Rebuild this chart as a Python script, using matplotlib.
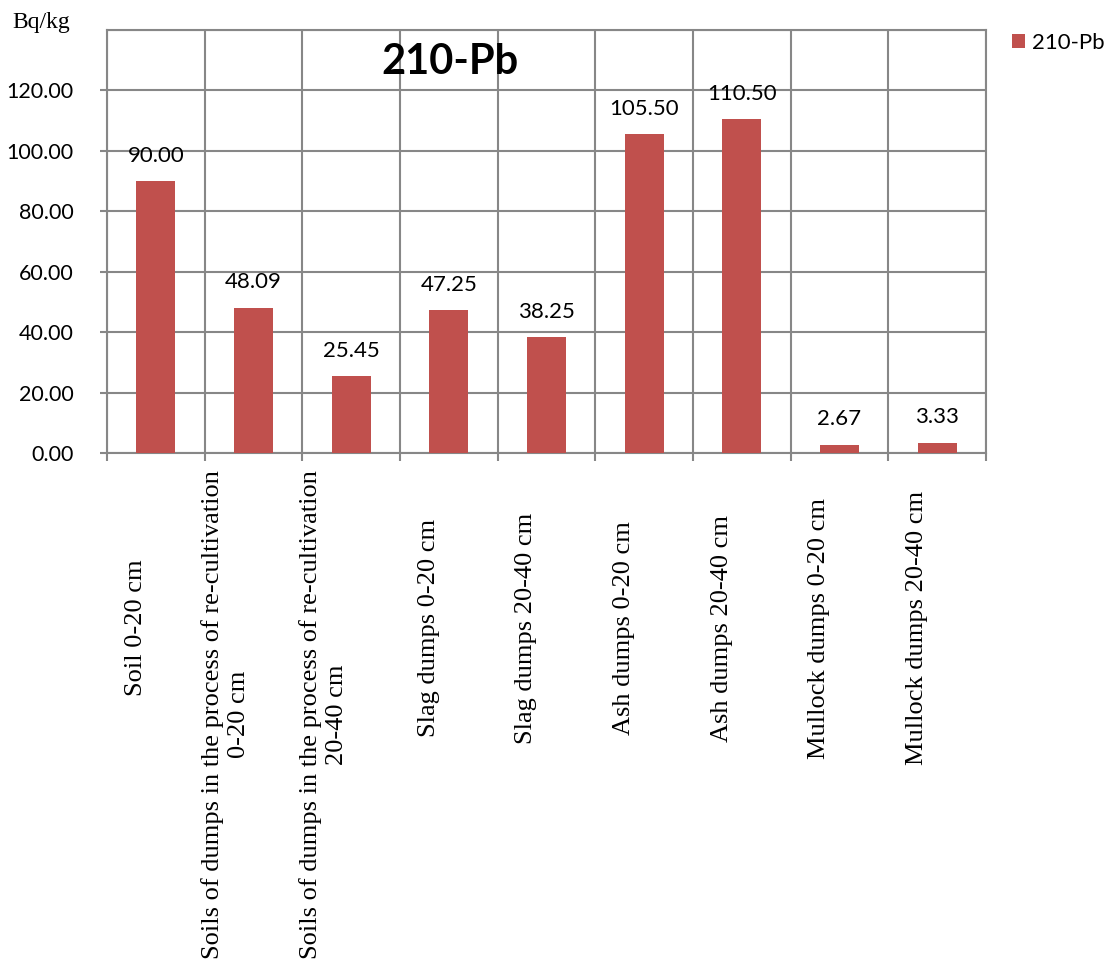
import matplotlib
matplotlib.use("Agg")
import matplotlib.pyplot as plt
import matplotlib.transforms as mtransforms
import numpy as np

categories = [
    "Soil 0-20 cm",
    "Soils of dumps in the process of re-cultivation\n0-20 cm",
    "Soils of dumps in the process of re-cultivation\n20-40 cm",
    "Slag dumps 0-20 cm",
    "Slag dumps 20-40 cm",
    "Ash dumps 0-20 cm",
    "Ash dumps 20-40 cm",
    "Mullock dumps 0-20 cm",
    "Mullock dumps 20-40 cm",
]
values = [90.00, 48.09, 25.45, 47.25, 38.25, 105.50, 110.50, 2.67, 3.33]
yticks = [0, 20, 40, 60, 80, 100, 120, 140]
series_name = "210-Pb"
title = "210-Pb"
unit_label = "Bq/kg"

W, H = 1112, 963
fig = plt.figure(figsize=(W / 100, H / 100), dpi=100)
L, R, T, B = 107, 986, 30, 453
ax = fig.add_axes([L / W, 1 - B / H, (R - L) / W, (B - T) / H])

bar_color = "#C0504D"
grid_color = "#878787"
num_font = "Lato"

n = len(categories)
x = np.arange(n)
ax.bar(x, values, width=0.4, color=bar_color, zorder=3, label=series_name)

ax.set_xlim(-0.5, n - 0.5)
ax.set_ylim(0, 140)

# gridlines
ax.set_yticks(yticks)
ax.set_yticklabels(["" if v == 140 else f"{v:.2f}" for v in yticks],
                   fontsize=15.5, fontfamily=num_font)
ax.yaxis.grid(True, color=grid_color, linewidth=1.5, zorder=0)
ax.set_xticks(np.arange(-0.5, n, 1.0))
ax.set_xticklabels([])
ax.xaxis.grid(True, color=grid_color, linewidth=1.5, zorder=0)
ax.tick_params(axis="y", length=5, width=1.5, color=grid_color, pad=19)
ax.tick_params(axis="x", length=6, width=1.5, color=grid_color)
for s in ax.spines.values():
    s.set_color(grid_color)
    s.set_linewidth(1.5)
ax.yaxis.get_major_ticks()[-1].tick1line.set_visible(False)

# bar value labels
for xi, v in zip(x, values):
    ax.annotate(f"{v:.2f}", (xi, v), xytext=(0, 14), textcoords="offset points",
                ha="center", va="baseline", fontsize=16, fontfamily=num_font, zorder=4)

# category labels (rotated, Times-like)
offset = mtransforms.ScaledTranslation(-20 / 100, 0, fig.dpi_scale_trans)
trans = mtransforms.blended_transform_factory(ax.transData, fig.transFigure) + offset
for xi, lab in zip(x, categories):
    if "\n" in lab:
        ax.text(xi - 0.08, 1 - 470 / H, lab, transform=trans, rotation=90,
                ha="center", va="top", multialignment="center",
                fontsize=19, fontfamily="Liberation Serif", linespacing=1.25)
    else:
        ax.text(xi, 1 - 628 / H, lab, transform=trans, rotation=90,
                ha="center", va="center", fontsize=19, fontfamily="Liberation Serif")

# title
fig.text(450 / W, 1 - 62 / H, title, ha="center", va="center", fontsize=30,
         fontweight="bold", fontfamily=num_font)

# unit label
fig.text(12 / W, 1 - 28 / H, unit_label, ha="left", va="baseline", fontsize=17,
         fontfamily="Liberation Serif")

# legend
leg = ax.legend(loc="upper left", bbox_to_anchor=(1012 / W, 1 - 33 / H),
                bbox_transform=fig.transFigure, frameon=False, fontsize=16,
                handlelength=0.6, handleheight=0.6, handletextpad=0.3,
                borderpad=0, borderaxespad=0)
for t in leg.get_texts():
    t.set_fontfamily(num_font)

fig.savefig("out.png", dpi=100)
